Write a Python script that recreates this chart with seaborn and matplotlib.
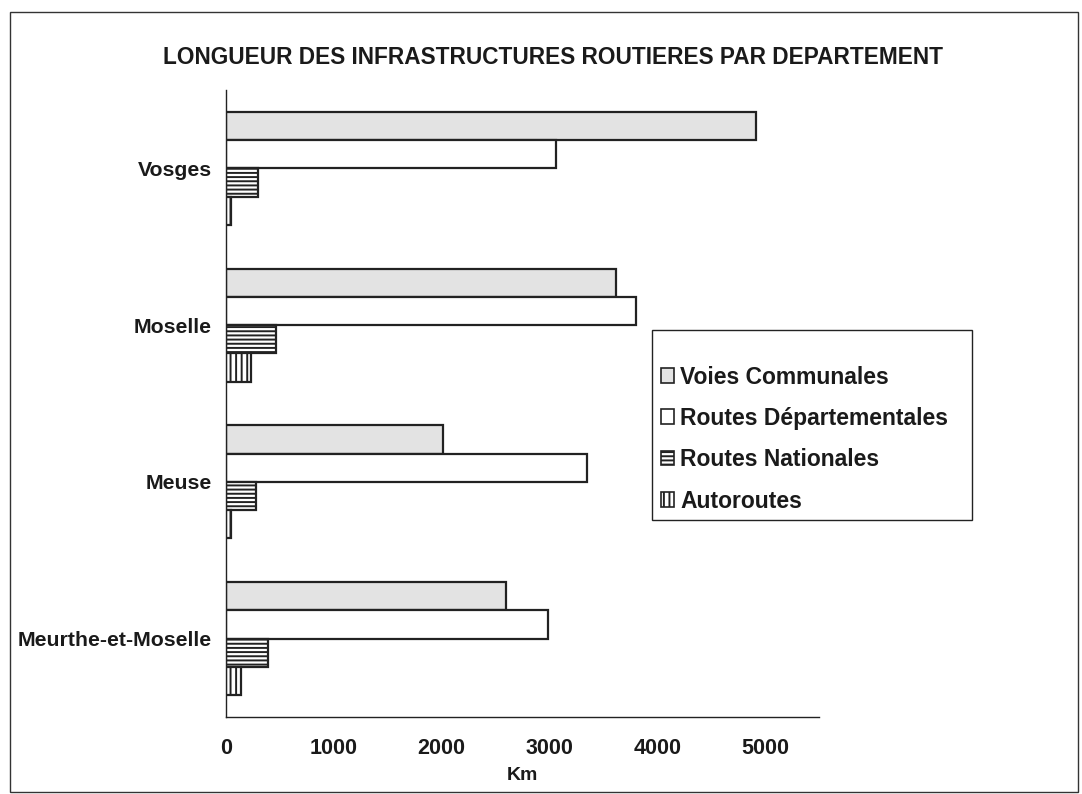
import pandas as pd
import seaborn as sns
from matplotlib import pyplot as plt
from matplotlib.patches import Patch, Rectangle
from matplotlib.ticker import MultipleLocator, FixedLocator

# Départements (de haut en bas)
departements = ['Vosges', 'Moselle', 'Meuse', 'Meurthe-et-Moselle']
types = ['Voies Communales', 'Routes Départementales',
         'Routes Nationales', 'Autoroutes']

# longueurs en km
voies_communales = [4920, 3615, 2010, 2600]
routes_departementales = [3060, 3800, 3345, 2990]
routes_nationales = [300, 460, 275, 390]
autoroutes = [50, 235, 50, 135]

x_ticks = [0, 1000, 2000, 3000, 4000, 5000]

valeurs = [voies_communales, routes_departementales, routes_nationales, autoroutes]
lignes = []
for t, serie in zip(types, valeurs):
    for d, v in zip(departements, serie):
        lignes.append({'dept': d, 'type': t, 'km': v})
df = pd.DataFrame(lignes)

sns.set_style('white')
plt.rcParams['font.family'] = ['Liberation Sans', 'DejaVu Sans']
plt.rcParams['hatch.linewidth'] = 1.4
plt.rcParams['hatch.color'] = '#222222'

couleurs = ['#e3e3e3', '#ffffff', '#ffffff', '#ffffff']
hachures = ['', '', '----', '|||']
noir = '#1a1a1a'

fig = plt.figure(figsize=(10.82, 7.94), dpi=100)
ax = fig.add_axes([226 / 1082, 1 - 717 / 794, (819 - 226) / 1082, (717 - 90) / 794])

sns.barplot(data=df, y='dept', x='km', hue='type', orient='h',
            order=departements, hue_order=types, palette=couleurs,
            width=0.72, edgecolor='#222222', linewidth=1.6,
            saturation=1, legend=False, ax=ax)

for cont, h in zip(ax.containers, hachures):
    for p in cont:
        p.set_hatch(h)

ax.set_xlim(0, 5500)
ax.set_ylim(3.5, -0.5)
ax.xaxis.set_major_locator(FixedLocator(x_ticks))
ax.xaxis.set_minor_locator(MultipleLocator(500))
ax.yaxis.set_minor_locator(FixedLocator([-0.5, 0.5, 1.5, 2.5, 3.5]))

for s in ['top', 'right']:
    ax.spines[s].set_visible(False)
for s in ['left', 'bottom']:
    ax.spines[s].set_color('#222222')
    ax.spines[s].set_linewidth(1.0)

ax.tick_params(axis='x', which='major', direction='inout', length=10,
               width=1, color='#222222', pad=10, labelsize=15.5)
ax.tick_params(axis='x', which='minor', direction='in', length=4,
               width=1, color='#222222')
ax.tick_params(axis='y', which='major', length=0, pad=10, labelsize=15.3)
ax.tick_params(axis='y', which='minor', direction='inout', length=10,
               width=1, color='#222222')
for lab in ax.get_xticklabels() + ax.get_yticklabels():
    lab.set_fontweight('bold')
    lab.set_color(noir)

ax.set_ylabel('')
ax.set_xlabel('Km', fontsize=14, fontweight='bold', color=noir, labelpad=6)

fig.text(553 / 1082, 1 - 58 / 794,
         'LONGUEUR DES INFRASTRUCTURES ROUTIERES PAR DEPARTEMENT',
         ha='center', va='center', fontsize=16.3, fontweight='bold',
         color=noir)

# légende sans cadre, cadre dessiné à part
handles = [Patch(facecolor=c, edgecolor='#222222', hatch=h, linewidth=1.2)
           for c, h in zip(couleurs, hachures)]
leg = fig.legend(handles, types, loc='center left',
                 bbox_to_anchor=(656 / 1082, 1 - 439 / 794),
                 bbox_transform=fig.transFigure, borderaxespad=0,
                 frameon=False,
                 prop={'weight': 'bold', 'size': 16.5},
                 handlelength=0.6, handleheight=0.6, handletextpad=0.25,
                 labelspacing=0.8, borderpad=0.2)
for t in leg.get_texts():
    t.set_color(noir)
fig.patches.append(Rectangle((652 / 1082, 1 - 520 / 794), 320 / 1082, 190 / 794,
                             transform=fig.transFigure, fill=False,
                             edgecolor='#222222', linewidth=1.0))

# cadre autour de toute la figure
fig.patches.append(Rectangle((10 / 1082, 2 / 794), 1068 / 1082, 780 / 794,
                             transform=fig.transFigure, fill=False,
                             edgecolor='#333333', linewidth=1.0))

plt.savefig('out.png', dpi=100)
